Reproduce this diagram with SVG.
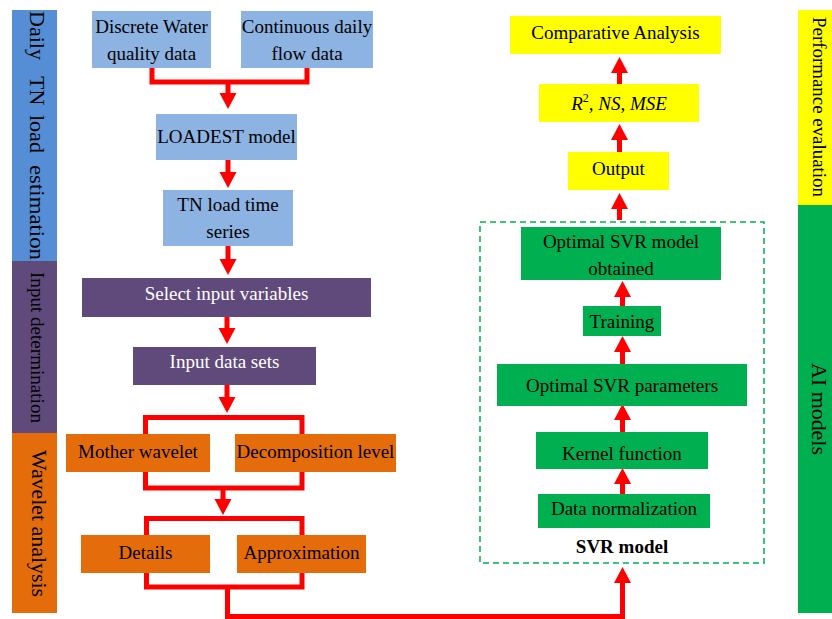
<svg xmlns="http://www.w3.org/2000/svg" width="832" height="619" viewBox="0 0 832 619">
<defs>
<style>
text{font-family:"Liberation Serif","Times New Roman",serif;font-size:19px;fill:#000}
.c{text-anchor:middle}
.w{fill:#fff}
.bar{font-size:19px}
.blue{fill:#8DB3E2}
.purple{fill:#604A7B}
.orange{fill:#E46C0A}
.yellow{fill:#FFFF00}
.green{fill:#00B050}
.conn path,.conn line{stroke:#FF0000;stroke-width:5;fill:none;stroke-linejoin:miter}
.arr{marker-end:url(#ah)}
</style>
<marker id="ah" markerUnits="userSpaceOnUse" markerWidth="16" markerHeight="18" refX="1" refY="8.5" orient="auto" viewBox="0 0 16 17">
<path d="M0,0 L16,8.5 L0,17 z" fill="#FF0000"/>
</marker>
</defs>
<rect width="832" height="619" fill="#fff"/>

<!-- side bars -->
<g id="bar-daily">
<rect x="12" y="10" width="45" height="251" fill="#558ED5"/>
<text class="bar" style="font-size:22px" transform="translate(29.5,11) rotate(90)">Daily</text>
<text class="bar" style="font-size:22px" transform="translate(29.5,76) rotate(90)">TN</text>
<text class="bar" style="font-size:22px" transform="translate(29.5,115) rotate(90)">load</text>
<text class="bar" style="font-size:22px" transform="translate(29.5,165) rotate(90)" textLength="95" lengthAdjust="spacingAndGlyphs">estimation</text>
</g>
<g id="bar-input">
<rect x="12" y="261" width="45" height="172" fill="#604A7B"/>
<text class="bar" transform="translate(31,272) rotate(90)" textLength="151" lengthAdjust="spacingAndGlyphs">Input determination</text>
</g>
<g id="bar-wavelet">
<rect x="12" y="433" width="45" height="180" fill="#E46C0A"/>
<text class="bar" style="font-size:20px" transform="translate(32,450) rotate(90)" textLength="147" lengthAdjust="spacingAndGlyphs">Wavelet analysis</text>
</g>
<g id="bar-performance">
<rect x="798" y="10" width="34" height="195" fill="#FFFF00"/>
<text class="bar" transform="translate(813,17) rotate(90)" textLength="180" lengthAdjust="spacingAndGlyphs">Performance evaluation</text>
</g>
<g id="bar-ai">
<rect x="798" y="205" width="34" height="408" fill="#00B050"/>
<text class="bar" style="font-size:20px" transform="translate(812,363) rotate(90)" textLength="92" lengthAdjust="spacingAndGlyphs">AI models</text>
</g>

<!-- connectors -->
<g id="connectors" class="conn">
<path d="M152,68 V82 H307 V68"/>
<line class="arr" x1="228" y1="82" x2="228" y2="94"/>
<line class="arr" x1="228" y1="160" x2="228" y2="173"/>
<line class="arr" x1="228" y1="246" x2="228" y2="260"/>
<line class="arr" x1="227" y1="317" x2="227" y2="329"/>
<line class="arr" x1="227" y1="385" x2="227" y2="398"/>
<path d="M145.5,434 V417.5 H302 V434"/>
<path d="M145.5,472 V488 H302 V472"/>
<line class="arr" x1="223" y1="488" x2="223" y2="500"/>
<path d="M146.5,535 V518.5 H302 V535"/>
<path d="M146.5,573 V587 H302 V573"/>
<path class="arr" d="M227.5,587 V616.5 H622.5 V582"/>
<line class="arr" x1="622.5" y1="494" x2="622.5" y2="483"/>
<line class="arr" x1="622.5" y1="432" x2="622.5" y2="419"/>
<line class="arr" x1="622.5" y1="364" x2="622.5" y2="351"/>
<line class="arr" x1="622.5" y1="306" x2="622.5" y2="296"/>
<line class="arr" x1="619.5" y1="220" x2="619.5" y2="208"/>
<line class="arr" x1="619.5" y1="152" x2="619.5" y2="139"/>
<line class="arr" x1="619.5" y1="84" x2="619.5" y2="72"/>
</g>

<!-- left nodes -->
<g id="discrete">
<rect class="blue" x="92" y="11" width="119" height="57"/>
<text class="c" x="151.5" y="32.5">Discrete Water</text>
<text class="c" x="151.5" y="59.5">quality data</text>
</g>
<g id="continuous">
<rect class="blue" x="241" y="11" width="132" height="57"/>
<text class="c" x="307" y="32.5">Continuous daily</text>
<text class="c" x="307" y="59.5">flow data</text>
</g>
<g id="loadest">
<rect class="blue" x="156" y="114" width="141" height="46"/>
<text class="c" x="226.5" y="143">LOADEST model</text>
</g>
<g id="tnload">
<rect class="blue" x="163" y="190" width="130" height="56"/>
<text class="c" x="228" y="211">TN load time</text>
<text class="c" x="228" y="238">series</text>
</g>
<g id="select">
<rect class="purple" x="82" y="278" width="289" height="39"/>
<text class="c w" x="226.5" y="300">Select input variables</text>
</g>
<g id="inputdata">
<rect class="purple" x="133" y="347" width="183" height="38"/>
<text class="c w" x="224.5" y="368">Input data sets</text>
</g>
<g id="mother">
<rect class="orange" x="66" y="434" width="144" height="38"/>
<text class="c" x="138" y="458">Mother wavelet</text>
</g>
<g id="decomp">
<rect class="orange" x="235" y="434" width="161" height="38"/>
<text class="c" x="315.5" y="458">Decomposition level</text>
</g>
<g id="details">
<rect class="orange" x="81" y="535" width="129" height="38"/>
<text class="c" x="145.5" y="559">Details</text>
</g>
<g id="approx">
<rect class="orange" x="237" y="535" width="129" height="38"/>
<text class="c" x="301.5" y="559">Approximation</text>
</g>

<!-- right nodes -->
<g id="comparative">
<rect class="yellow" x="510" y="16" width="211" height="38"/>
<text class="c" x="615.5" y="39">Comparative Analysis</text>
</g>
<g id="metrics">
<rect class="yellow" x="539" y="84" width="160" height="38"/>
<text class="c" x="619" y="110"><tspan font-style="italic">R</tspan><tspan font-size="12" dy="-8">2</tspan><tspan dy="8">, </tspan><tspan font-style="italic">NS</tspan>, <tspan font-style="italic">MSE</tspan></text>
</g>
<g id="output">
<rect class="yellow" x="568" y="152" width="101" height="38"/>
<text class="c" x="618.5" y="175">Output</text>
</g>
<g id="svr-box">
<rect x="480" y="222" width="284" height="341" fill="none" stroke="#00B050" stroke-width="1.5" stroke-dasharray="6,4"/>
<text class="c" x="622" y="553" font-weight="bold">SVR model</text>
</g>
<g id="optmodel">
<rect class="green" x="521" y="227" width="200" height="53"/>
<text class="c" x="621" y="248">Optimal SVR model</text>
<text class="c" x="621" y="275">obtained</text>
</g>
<g id="training">
<rect class="green" x="583" y="306" width="78" height="30"/>
<text class="c" x="622" y="328">Training</text>
</g>
<g id="optparams">
<rect class="green" x="497" y="364" width="250" height="42"/>
<text class="c" x="622" y="392">Optimal SVR parameters</text>
</g>
<g id="kernel">
<rect class="green" x="536" y="432" width="172" height="37"/>
<text class="c" x="622" y="460">Kernel function</text>
</g>
<g id="datanorm">
<rect class="green" x="538" y="494" width="172" height="34"/>
<text class="c" x="624" y="515">Data normalization</text>
</g>
</svg>
